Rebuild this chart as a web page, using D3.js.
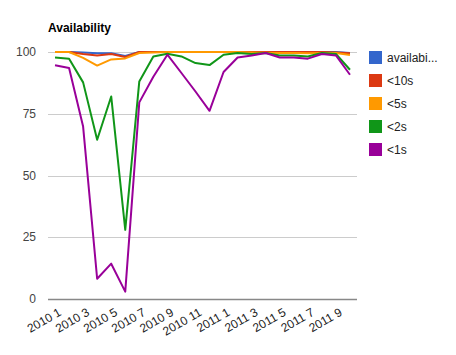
<!DOCTYPE html>
<html>
<head>
<meta charset="utf-8">
<script src="https://cdn.jsdelivr.net/npm/d3@7"></script>
<style>
  html, body { margin: 0; padding: 0; background: #fff; }
  svg { display: block; font-family: Arial, "Liberation Sans", sans-serif; }
</style>
</head>
<body>
<svg id="chart" width="456" height="355"></svg>
<script>
const title = "Availability";
const months = ["2010 1","2010 2","2010 3","2010 4","2010 5","2010 6","2010 7","2010 8","2010 9","2010 10","2010 11","2010 12",
                "2011 1","2011 2","2011 3","2011 4","2011 5","2011 6","2011 7","2011 8","2011 9","2011 10"];
const tickLabels = ["2010 1","2010 3","2010 5","2010 7","2010 9","2010 11","2011 1","2011 3","2011 5","2011 7","2011 9"];
const yTicks = [0, 25, 50, 75, 100];
const seriesNames = ["availabi...", "<10s", "<5s", "<2s", "<1s"];
const colors = ["#3366cc", "#dc3912", "#ff9900", "#109618", "#990099"];
const availability = [100, 100, 99.8, 99.5, 99.5, 98.4, 100, 100, 100, 100, 100, 100, 100, 100, 100, 100, 100, 100, 100, 100, 100, 99.6];
const under10s = [100, 100, 99.2, 98.6, 99.2, 98, 100, 100, 100, 100, 100, 100, 100, 100, 100, 100, 100, 100, 100, 100, 99.8, 99.5];
const under5s = [100, 100, 97.6, 94.5, 97, 97.4, 99.6, 99.8, 100, 100, 100, 100, 100, 100, 99.8, 99.7, 99.6, 99.6, 99.5, 99.6, 99.6, 98.8];
const under2s = [97.8, 97.3, 87.7, 64.5, 82, 28, 88.1, 98.2, 99.3, 98.2, 95.5, 94.7, 98.9, 99.6, 99.2, 99.6, 98.6, 98.6, 98.2, 99.6, 99.2, 92.8];
const under1s = [94.6, 93.5, 69.8, 8.2, 14.3, 3, 79.6, 90, 98.9, 91.5, 84, 76.2, 91.9, 97.8, 98.6, 99.6, 97.8, 97.8, 97.3, 99.2, 98.6, 90.8];
const seriesValues = [availability, under10s, under5s, under2s, under1s];

const svg = d3.select("#chart");
const plotLeft = 48, plotRight = 357, plotTop = 52, plotBottom = 299;

const x = d3.scalePoint().domain(months).range([plotLeft, plotRight]).padding(0.5);
const y = d3.scaleLinear().domain([0, 100]).range([plotBottom, plotTop]);

// title
svg.append("text").attr("x", 48).attr("y", 32)
  .attr("font-size", 12).attr("font-weight", "bold").attr("fill", "#000")
  .text(title);

// gridlines
svg.append("g").selectAll("line").data(yTicks.filter(d => d !== 0)).join("line")
  .attr("x1", plotLeft).attr("x2", plotRight)
  .attr("y1", d => Math.round(y(d)) + 0.5).attr("y2", d => Math.round(y(d)) + 0.5)
  .attr("stroke", "#cccccc").attr("stroke-width", 1);

// y labels
svg.append("g").selectAll("text").data(yTicks).join("text")
  .attr("x", 36).attr("y", d => y(d)).attr("dy", "0.35em")
  .attr("text-anchor", "end").attr("font-size", 12).attr("fill", "#444")
  .text(d => d);

// lines
const line = d3.line().x((d, i) => x(months[i])).y(d => y(d));
svg.append("g").selectAll("path").data(seriesValues).join("path")
  .attr("d", d => line(d))
  .attr("fill", "none")
  .attr("stroke", (d, i) => colors[i])
  .attr("stroke-width", 2)
  .attr("stroke-linejoin", "round");

// baseline
svg.append("line").attr("x1", plotLeft).attr("x2", plotRight)
  .attr("y1", y(0) + 0.5).attr("y2", y(0) + 0.5)
  .attr("stroke", "#888").attr("stroke-width", 1.5);

// x labels
svg.append("g").selectAll("text").data(tickLabels).join("text")
  .attr("transform", d => `translate(${x(d) + 5},${plotBottom + 12}) rotate(-30)`)
  .attr("text-anchor", "end").attr("dy", "0.35em")
  .attr("font-size", 12).attr("fill", "#222")
  .text(d => d);

// legend
const lg = svg.append("g").selectAll("g").data(seriesNames).join("g")
  .attr("transform", (d, i) => `translate(369,${51 + i * 23})`);
lg.append("rect").attr("width", 13).attr("height", 13)
  .attr("fill", (d, i) => colors[i]);
lg.append("text").attr("x", 18).attr("y", 6.5).attr("dy", "0.35em")
  .attr("font-size", 12).attr("fill", "#222")
  .text(d => d);
</script>
</body>
</html>
